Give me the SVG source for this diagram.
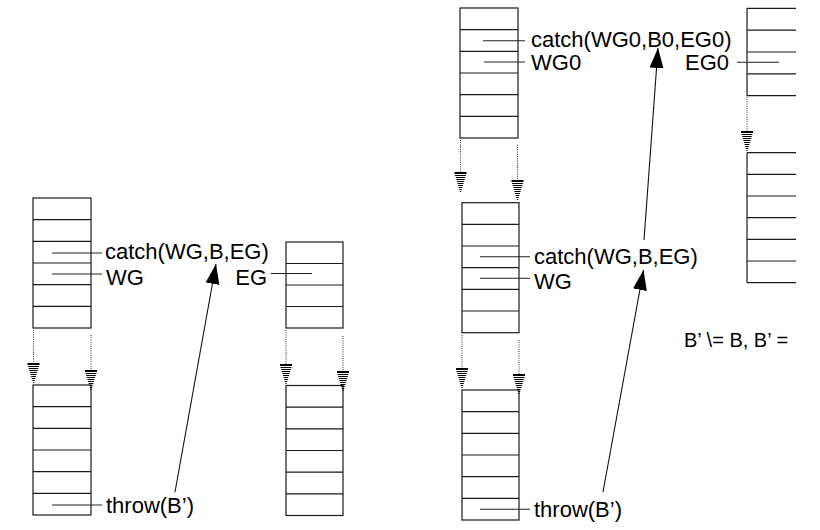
<svg xmlns="http://www.w3.org/2000/svg" xmlns:xlink="http://www.w3.org/1999/xlink" width="820" height="530" viewBox="0 0 820 530">
<style>
.cell{fill:none;stroke:#1a1a1a;stroke-width:1.2}
.ln{stroke:#1a1a1a;stroke-width:1.2;fill:none}
.lead{stroke:#222;stroke-width:1.1}
.dot{stroke:#333;stroke-width:1;stroke-dasharray:1 1.2;fill:none}
.arr{stroke:#111;stroke-width:1.1;fill:none;marker-end:url(#ah)}
text{font-family:"Liberation Sans",Arial,Helvetica,sans-serif;font-size:22px;fill:#000}
</style>
<defs>
<marker id="ah" markerUnits="userSpaceOnUse" markerWidth="22" markerHeight="16" refX="20" refY="7" orient="auto">
<path d="M0,0 L20,7 L0,14 z" fill="#000"/>
</marker>
<g id="hat" stroke="#000" stroke-width="1">
<line x1="-6" y1="0.5" x2="6" y2="0.5"/>
<line x1="-6" y1="1.5" x2="6" y2="1.5"/>
<line x1="-5.4" y1="3.5" x2="5.4" y2="3.5"/>
<line x1="-4.8" y1="5.5" x2="4.8" y2="5.5"/>
<line x1="-4.2" y1="7.5" x2="4.2" y2="7.5"/>
<line x1="-3.6" y1="9.5" x2="3.6" y2="9.5"/>
<line x1="-3" y1="11.5" x2="3" y2="11.5"/>
<line x1="-2.4" y1="13.5" x2="2.4" y2="13.5"/>
<line x1="-1.8" y1="15.5" x2="1.8" y2="15.5"/>
<line x1="-1.2" y1="17.5" x2="1.2" y2="17.5"/>
<line x1="-0.6" y1="19.5" x2="0.6" y2="19.5"/>
</g>
</defs>

<!-- Left diagram -->
<g id="stackL1">
<rect class="cell" x="33" y="198" width="58" height="130"/>
<path class="ln" d="M33,219.7H91M33,241.3H91M33,263H91M33,284.7H91M33,306.3H91"/>
<line class="lead" x1="52" y1="253" x2="102" y2="253"/>
<line class="lead" x1="52" y1="274" x2="102" y2="274"/>
<text x="105" y="259">catch(WG,B,EG)</text>
<text x="106" y="285">WG</text>
</g>
<g id="stackL2">
<rect class="cell" x="33" y="385" width="58" height="130"/>
<path class="ln" d="M33,406.7H91M33,428.3H91M33,450H91M33,471.7H91M33,493.3H91"/>
<line class="lead" x1="52" y1="505" x2="102" y2="505"/>
<text x="106" y="512.5">throw(B’)</text>
</g>
<g id="stackL3">
<rect class="cell" x="286" y="242" width="57" height="86"/>
<path class="ln" d="M286,263.5H343M286,285H343M286,306.5H343"/>
<line class="lead" x1="271" y1="273.5" x2="312" y2="273.5"/>
<text x="267" y="284.5" text-anchor="end">EG</text>
</g>
<g id="stackL4">
<rect class="cell" x="286" y="385.5" width="57" height="130"/>
<path class="ln" d="M286,407.2H343M286,428.8H343M286,450.5H343M286,472.2H343M286,493.8H343"/>
</g>

<!-- Right diagram -->
<g id="stackR1">
<rect class="cell" x="460" y="8" width="58" height="130"/>
<path class="ln" d="M460,29.7H518M460,51.3H518M460,73H518M460,94.7H518M460,116.3H518"/>
<line class="lead" x1="483" y1="40.7" x2="525" y2="40.7"/>
<line class="lead" x1="484" y1="62" x2="525" y2="62"/>
<text x="531" y="47">catch(WG0,B0,EG0)</text>
<text x="531" y="70">WG0</text>
</g>
<g id="stackR2">
<rect class="cell" x="462" y="202.7" width="57" height="130"/>
<path class="ln" d="M462,224.3H519M462,246H519M462,267.7H519M462,289.3H519M462,311H519"/>
<line class="lead" x1="480" y1="256.7" x2="530" y2="256.7"/>
<line class="lead" x1="480" y1="278.3" x2="530" y2="278.3"/>
<text x="534" y="264">catch(WG,B,EG)</text>
<text x="534" y="288.5">WG</text>
</g>
<g id="stackR5">
<rect class="cell" x="462" y="390" width="57" height="130"/>
<path class="ln" d="M462,411.7H519M462,433.3H519M462,455H519M462,476.7H519M462,498.3H519"/>
<line class="lead" x1="480" y1="509.3" x2="530" y2="509.3"/>
<text x="534" y="517">throw(B’)</text>
</g>
<g id="stackR3">
<path class="ln" d="M747,8.3V95.7M747,8.3H796M747,30.2H796M747,52H796M747,73.9H796M747,95.7H796"/>
<line class="lead" x1="737" y1="62.3" x2="779" y2="62.3"/>
<text x="685" y="70">EG0</text>
</g>
<g id="stackR4">
<path class="ln" d="M747,152.7V282.7M747,152.7H796M747,174.4H796M747,196H796M747,217.7H796M747,239.4H796M747,261H796M747,282.7H796"/>
</g>
<g id="note">
<text x="684" y="347" style="font-size:20px">B’ \= B, B’ =</text>
</g>

<g id="connectors">
<path class="dot" d="M33.5,330V363M91,335V370M286,330V364M343,336V371M460.5,140V172M517.5,145V180M462,335V368M519,340V374M747,97V131"/>
<use xlink:href="#hat" href="#hat" transform="translate(33.5,363)"/>
<use xlink:href="#hat" href="#hat" transform="translate(91,370)"/>
<use xlink:href="#hat" href="#hat" transform="translate(286,364)"/>
<use xlink:href="#hat" href="#hat" transform="translate(343,371)"/>
<use xlink:href="#hat" href="#hat" transform="translate(460.5,172)"/>
<use xlink:href="#hat" href="#hat" transform="translate(517.5,180)"/>
<use xlink:href="#hat" href="#hat" transform="translate(462,368)"/>
<use xlink:href="#hat" href="#hat" transform="translate(519,374)"/>
<use xlink:href="#hat" href="#hat" transform="translate(747,131)"/>
<line class="arr" x1="175" y1="492" x2="216" y2="264"/>
<line class="arr" x1="603" y1="492" x2="643.5" y2="270"/>
<line class="arr" x1="644" y1="240" x2="658" y2="48"/>
</g>
</svg>
